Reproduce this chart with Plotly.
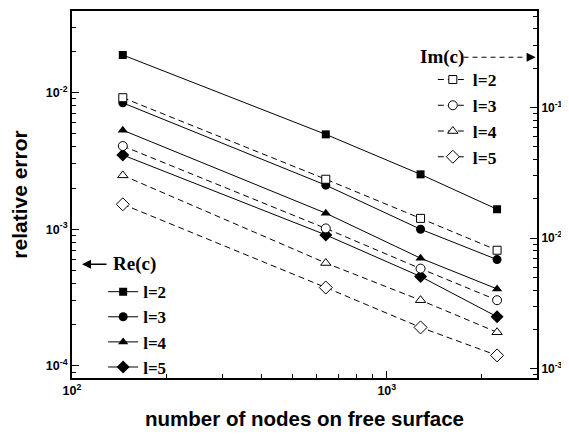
import plotly.graph_objects as go

# ---- data ----
nodes = [145, 640, 1280, 2240]
re_l2 = [0.0188, 0.00494, 0.00252, 0.00140]
re_l3 = [0.0084, 0.00210, 0.00100, 0.00060]
re_l4 = [0.0053, 0.00131, 0.000614, 0.000366]
re_l5 = [0.00349, 0.000909, 0.000451, 0.000229]
im_l2 = [0.119, 0.0283, 0.0142, 0.0081]
im_l3 = [0.0508, 0.0119, 0.00586, 0.00336]
im_l4 = [0.0303, 0.00647, 0.00336, 0.00191]
im_l5 = [0.0182, 0.0042, 0.00208, 0.00127]
series_names = ["l=2", "l=3", "l=4", "l=5"]

x_tickvals = [100, 1000]
x_ticktext = ["10<sup>2</sup>", "10<sup>3</sup>"]
x_minor = [200, 300, 400, 500, 600, 700, 800, 900, 2000, 3000]
yl_tickvals = [1e-4, 1e-3, 1e-2]
yl_ticktext = ["10<sup>-4</sup>", "10<sup>-3</sup>", "10<sup>-2</sup>"]
yl_minor = [9e-5, 2e-4, 3e-4, 4e-4, 5e-4, 6e-4, 7e-4, 8e-4, 9e-4,
            2e-3, 3e-3, 4e-3, 5e-3, 6e-3, 7e-3, 8e-3, 9e-3, 2e-2, 3e-2]
yr_tickvals = [1e-3, 1e-2, 1e-1]
yr_ticktext = ["10<sup>-3</sup>", "10<sup>-2</sup>", "10<sup>-1</sup>"]
yr_minor = [9e-4, 2e-3, 3e-3, 4e-3, 5e-3, 6e-3, 7e-3, 8e-3, 9e-3,
            2e-2, 3e-2, 4e-2, 5e-2, 6e-2, 7e-2, 8e-2, 9e-2,
            2e-1, 3e-1, 4e-1, 5e-1]

SANS = "Liberation Sans"
SERIF = "Liberation Serif"

fig = go.Figure()

re_sets = [re_l2, re_l3, re_l4, re_l5]
im_sets = [im_l2, im_l3, im_l4, im_l5]
symbols = ["square", "circle", "triangle-up", "diamond"]
sizes = [8, 9, 9, 10]

for name, vals, sym, sz in zip(series_names, re_sets, symbols, sizes):
    fig.add_trace(go.Scatter(
        x=nodes, y=vals, name=name, mode="lines+markers",
        line=dict(color="black", width=1),
        marker=dict(symbol=sym, size=sz, color="black"),
        legend="legend", yaxis="y",
    ))

for name, vals, sym, sz in zip(series_names, im_sets, symbols, sizes):
    fig.add_trace(go.Scatter(
        x=nodes, y=vals, name=name, mode="lines+markers",
        line=dict(color="black", width=1, dash="6px,4px"),
        marker=dict(symbol=sym, size=sz, color="white",
                    line=dict(color="black", width=1)),
        legend="legend2", yaxis="y2",
    ))

tickfont = dict(family=SANS, size=12.5, color="black", weight="bold")
tickfont_r = dict(family=SANS, size=12, color="black", weight="bold")


def minor_of(vals):
    return dict(tickmode="array", tickvals=vals, ticks="inside", ticklen=4,
                tickwidth=1, tickcolor="black", showgrid=False)


# the page body adds an 8px offset, so the figure is 8px smaller on each axis
fig.update_layout(
    width=561, height=427,
    margin=dict(l=64, r=32, t=3, b=57, autoexpand=False),
    paper_bgcolor="white", plot_bgcolor="white",
    showlegend=True,
    xaxis=dict(
        type="log", range=[2, 3.4771], automargin=False,
        tickmode="array", tickvals=x_tickvals, ticktext=x_ticktext,
        ticks="inside", ticklen=7, tickwidth=1, tickcolor="black",
        minor=minor_of(x_minor),
        showline=True, linecolor="black", linewidth=2, mirror=True,
        showgrid=False, zeroline=False, tickfont=tickfont,
        title=dict(text="number of nodes on free surface",
                   font=dict(family=SANS, size=20.5, color="black", weight="bold")),
    ),
    yaxis=dict(
        type="log", range=[-4.088, -1.404], automargin=False,
        tickmode="array", tickvals=yl_tickvals, ticktext=yl_ticktext,
        ticks="inside", ticklen=7, tickwidth=1, tickcolor="black",
        minor=minor_of(yl_minor),
        showline=True, linecolor="black", linewidth=2,
        showgrid=False, zeroline=False, tickfont=tickfont,
        title=dict(text="relative error",
                   font=dict(family=SANS, size=21, color="black", weight="bold")),
    ),
    yaxis2=dict(
        type="log", range=[-3.069, -0.261], overlaying="y", side="right",
        automargin=False,
        tickmode="array", tickvals=yr_tickvals, ticktext=yr_ticktext,
        ticks="inside", ticklen=7, tickwidth=1, tickcolor="black",
        minor=minor_of(yr_minor),
        showline=True, linecolor="black", linewidth=2,
        showgrid=False, zeroline=False, tickfont=tickfont_r,
    ),
    legend=dict(
        x=0.067, y=0.283, xanchor="left", yanchor="top",
        bgcolor="rgba(0,0,0,0)", borderwidth=0,
        font=dict(family=SERIF, size=17, color="black", weight="bold"),
        tracegroupgap=0,
    ),
    legend2=dict(
        x=0.776, y=0.862, xanchor="left", yanchor="top",
        bgcolor="rgba(0,0,0,0)", borderwidth=0,
        font=dict(family=SERIF, size=17.5, color="black", weight="bold"),
        tracegroupgap=0,
    ),
)

# "Re(c)" label with arrow pointing to the left axis
fig.add_annotation(xref="paper", yref="paper", x=0.0215, y=0.31,
                   text="", showarrow=True, ax=26, ay=0,
                   arrowhead=2, arrowsize=1.2, arrowwidth=1.5, arrowcolor="black")
fig.add_annotation(xref="paper", yref="paper", x=0.0839, y=0.31,
                   xanchor="left", yanchor="middle", showarrow=False,
                   text="Re(c)",
                   font=dict(family=SERIF, size=19, color="black", weight="bold"))

# "Im(c)" label with dashed arrow pointing to the right axis
fig.add_annotation(xref="paper", yref="paper", x=0.7446, y=0.874,
                   xanchor="left", yanchor="middle", showarrow=False,
                   text="Im(c)",
                   font=dict(family=SERIF, size=19, color="black", weight="bold"))
fig.add_shape(type="line", xref="paper", yref="paper",
              x0=0.842, x1=0.975, y0=0.874, y1=0.874,
              line=dict(color="black", width=1, dash="5px,4px"))
fig.add_annotation(xref="paper", yref="paper", x=0.997, y=0.874,
                   text="", showarrow=True, ax=-10, ay=0,
                   arrowhead=2, arrowsize=1.2, arrowwidth=1.5, arrowcolor="black")

fig.write_html("out.html")
